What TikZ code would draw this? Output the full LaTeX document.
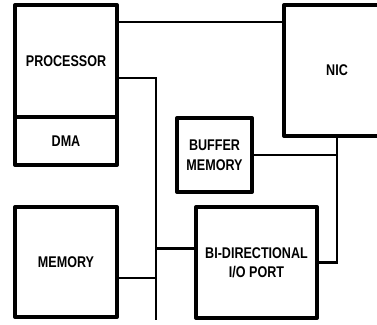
\documentclass[tikz,border=0pt]{standalone}
\usepackage{fontspec}
\newfontfamily\cadfont[FakeStretch=0.81]{Liberation Sans Bold}
\usetikzlibrary{positioning}

\begin{document}
\begin{tikzpicture}[x=1pt,y=-1pt,
  block/.style={draw,line width=4pt,line join=round,align=center,inner sep=0pt,
    font=\cadfont\fontsize{15.5}{19.5}\selectfont},
  link/.style={line width=2.8pt}]
\useasboundingbox (0,0) rectangle (377,324);
\clip (0,0) rectangle (377,324);
\node[block,minimum width=102pt,minimum height=112pt] (processor) at (66,61) {PROCESSOR};
\node[block,minimum width=102pt,minimum height=48pt] (dma) at (66,141) {DMA};
\node[block,minimum width=102pt,minimum height=110pt] (memory) at (66,262) {MEMORY};
\node[block,minimum width=75pt,minimum height=74pt] (buffer) at (214.5,155) {BUFFER\\MEMORY};
\node[block,minimum width=121pt,minimum height=111pt] (io) at (256.5,262.5) {BI-DIRECTIONAL\\I/O PORT};
\node[block,minimum width=106pt,minimum height=131pt] (nic) at (337,70.5) {NIC};
\coordinate (bustop) at (156,80);
\coordinate (busbot) at (156,320);
\draw[link] ([yshift=-19pt]processor.north east) -- ([yshift=-19pt]nic.north west);
\draw[link] ([yshift=-75pt]processor.north east) -| (busbot);
\draw[link] ([yshift=-16pt]memory.east) -- ([yshift=-16pt]memory.east -| bustop);
\draw[link] ([yshift=14pt]io.west -| bustop) -- ([yshift=14pt]io.west);
\draw[link] (buffer.east) -- (buffer.east -| nic.south);
\draw[link] (nic.south) |- (io.east);
\end{tikzpicture}
\end{document}
